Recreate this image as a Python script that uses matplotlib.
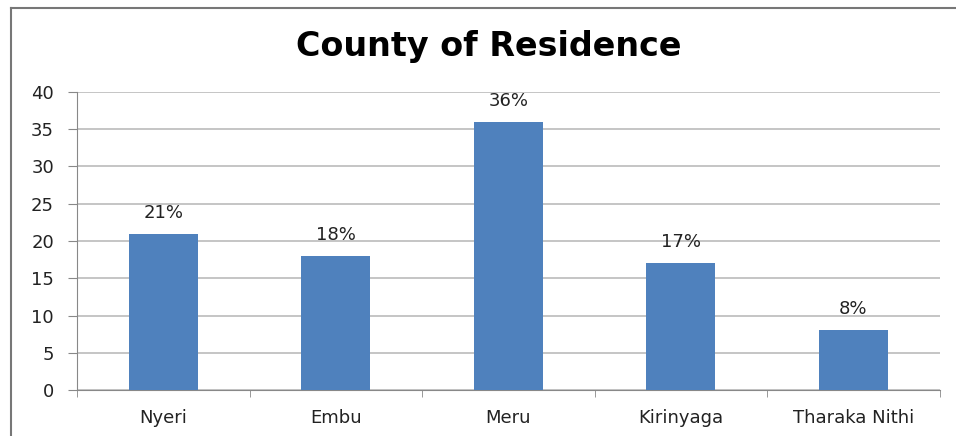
import matplotlib.pyplot as plt
from matplotlib.lines import Line2D

counties = ['Nyeri', 'Embu', 'Meru', 'Kirinyaga', 'Tharaka Nithi']
values = [21, 18, 36, 17, 8]
labels = ['21%', '18%', '36%', '17%', '8%']

plt.rcParams['font.family'] = ['DejaVu Sans']

fig = plt.figure(figsize=(9.56, 4.36), dpi=100)
ax = fig.add_axes([0.0805, 0.1055, 0.9025, 0.6835])

x = range(len(counties))
bars = ax.bar(x, values, width=0.4, color='#4F81BD', zorder=3)
for b, lab in zip(bars, labels):
    ax.text(b.get_x() + b.get_width() / 2, b.get_height() + 1.6, lab,
            ha='center', va='bottom', fontsize=13, color='#222222')

ax.set_xlim(-0.5, len(counties) - 0.5)
ax.set_ylim(0, 40)
ax.set_yticks(range(0, 41, 5))
ax.set_xticks(x)
ax.set_xticklabels(counties, fontsize=13, color='#222222')
ax.tick_params(axis='y', labelsize=13, labelcolor='#222222', length=6.5,
               color='#888888', pad=10)
ax.tick_params(axis='x', length=0, pad=14)
# category separator ticks
ax.set_xticks([i - 0.5 for i in range(len(counties) + 1)], minor=True)
ax.tick_params(axis='x', which='minor', length=5, color='#888888', direction='out')
ax.grid(axis='y', color='#BBBBBB', linewidth=1.2, zorder=0)
for s in ['top', 'right']:
    ax.spines[s].set_visible(False)
ax.spines['left'].set_color('#888888')
ax.spines['bottom'].set_color('#888888')

fig.text(0.511, 0.893, 'County of Residence', ha='center', va='center',
         fontsize=24, fontweight='bold')

# outer chart border
fig.add_artist(Line2D([0.0115, 1.0], [0.981, 0.981], color='#777777', lw=1.5,
                      transform=fig.transFigure))
fig.add_artist(Line2D([0.0115, 0.0115], [0.0, 0.981], color='#777777', lw=1.5,
                      transform=fig.transFigure))

fig.savefig('out.png', dpi=100)
